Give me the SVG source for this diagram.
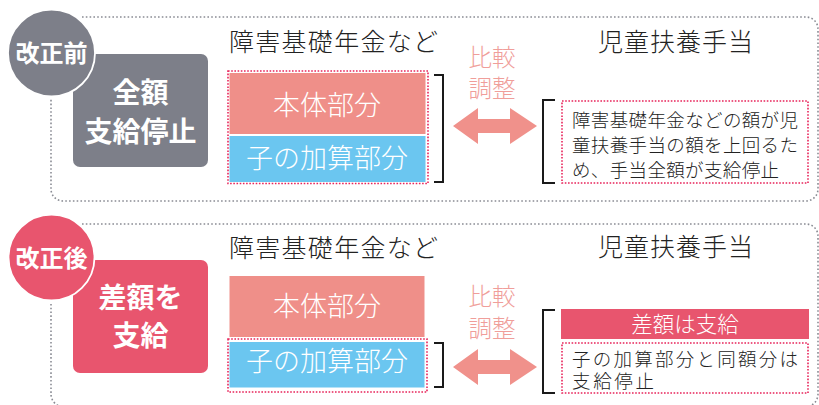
<svg xmlns="http://www.w3.org/2000/svg" width="819" height="405" viewBox="0 0 819 405">
<defs>
<style>
text{font-family:"Noto Sans CJK JP","Noto Sans CJK SC",sans-serif;}
.frame{fill:none;stroke:#8a8c94;stroke-width:1.6;stroke-dasharray:1.6 2.2;}
.dot{fill:none;stroke:#e8245a;stroke-width:1.6;stroke-dasharray:1.6 1.6;}
.br{fill:none;stroke:#1a1a1a;stroke-width:2;}
.head{font-size:25px;fill:#222;font-weight:300;}
.cmp{font-size:23.5px;fill:#f09e9a;text-anchor:middle;font-weight:300;}
.bar{font-size:27px;fill:#fff;text-anchor:middle;font-weight:300;}
.note{font-size:18.5px;fill:#222;font-weight:300;}
.badge{font-size:24px;font-weight:bold;fill:#fff;text-anchor:middle;}
.big{font-size:28px;font-weight:bold;fill:#fff;text-anchor:middle;}
.arrow{fill:#f0918b;}
</style>
</defs>
<rect width="819" height="405" fill="#fff"/>

<g id="frames">
<path class="frame" d="M82,17 H806 A12,12 0 0 1 818,29 V189 A12,12 0 0 1 806,201 H63 A12,12 0 0 1 51,189 V98"/>
<path class="frame" d="M82,224 H806 A12,12 0 0 1 818,236 V394 A13,13 0 0 1 805,407 H64 A13,13 0 0 1 51,394 V302"/>
</g>

<!-- BEFORE -->
<g id="status-before">
<rect x="73" y="54" width="135" height="113" rx="7" fill="#7d7f89"/>
<text class="big" x="140.5" y="103">全額</text>
<text class="big" x="140.5" y="142">支給停止</text>
</g>
<g id="badge-before">
<circle cx="51.5" cy="53" r="43.5" fill="#7d7f89" stroke="#fff" stroke-width="1.8"/>
<text class="badge" x="51.5" y="62">改正前</text>
</g>
<g id="pension-before">
<text class="head" x="229" y="51" textLength="209">障害基礎年金など</text>
<rect x="229.5" y="73" width="196" height="61" fill="#ef8f89"/>
<rect x="229.5" y="136" width="196" height="46" fill="#6bc6f0"/>
<rect class="dot" x="228" y="71" width="200" height="112.5"/>
<text class="bar" x="327" y="115">本体部分</text>
<text class="bar" x="327" y="168">子の加算部分</text>
</g>
<g id="compare-before">
<text class="cmp" x="492" y="66">比較</text>
<text class="cmp" x="492" y="97">調整</text>
</g>
<g id="child-before">
<text class="head" x="598" y="51" textLength="155">児童扶養手当</text>
<rect class="dot" x="562" y="101" width="246" height="82"/>
<text class="note" x="572" y="127" textLength="226">障害基礎年金などの額が児</text>
<text class="note" x="572" y="152" textLength="226">童扶養手当の額を上回るた</text>
<text class="note" x="572" y="176.5" textLength="207">め、手当全額が支給停止</text>
</g>

<!-- AFTER -->
<g id="status-after">
<rect x="73" y="260" width="135" height="113" rx="7" fill="#e8556e"/>
<text class="big" x="140.5" y="308">差額を</text>
<text class="big" x="140.5" y="346">支給</text>
</g>
<g id="badge-after">
<circle cx="51.5" cy="257.5" r="43" fill="#e8556e" stroke="#fff" stroke-width="1.8"/>
<text class="badge" x="51.5" y="266.5">改正後</text>
</g>
<g id="pension-after">
<text class="head" x="229" y="257" textLength="209">障害基礎年金など</text>
<rect x="229.5" y="276" width="195" height="61" fill="#ef8f89"/>
<rect x="229.5" y="342" width="195" height="45.5" fill="#6bc6f0"/>
<rect class="dot" x="228" y="339" width="199" height="53"/>
<text class="bar" x="327" y="316">本体部分</text>
<text class="bar" x="327" y="371">子の加算部分</text>
</g>
<g id="compare-after">
<text class="cmp" x="492" y="305">比較</text>
<text class="cmp" x="492" y="337">調整</text>
</g>
<g id="child-after">
<text class="head" x="598" y="256" textLength="155">児童扶養手当</text>
<rect x="561" y="309" width="248" height="30" fill="#e8556e"/>
<text x="685" y="332" font-size="21.5" fill="#fff" text-anchor="middle" font-weight="300">差額は支給</text>
<rect class="dot" x="562" y="343" width="246" height="50"/>
<text class="note" x="572" y="365.5" font-size="19" textLength="226">子の加算部分と同額分は</text>
<text class="note" x="572" y="387.5" font-size="19" textLength="82">支給停止</text>
</g>

<g id="connectors">
<path class="br" d="M434,75 H443 V182 H434"/>
<path class="br" d="M555,100 H543 V183 H555"/>
<path class="arrow" d="M453,126 L478,108 V119 H510 V108 L537,126 L510,144 V133 H478 V144 Z"/>
<path class="br" d="M434,343 H443 V387 H434"/>
<path class="br" d="M555,310 H543 V393 H555"/>
<path class="arrow" d="M453,367 L478,349 V360 H510 V349 L537,367 L510,385 V374 H478 V385 Z"/>
</g>
</svg>
